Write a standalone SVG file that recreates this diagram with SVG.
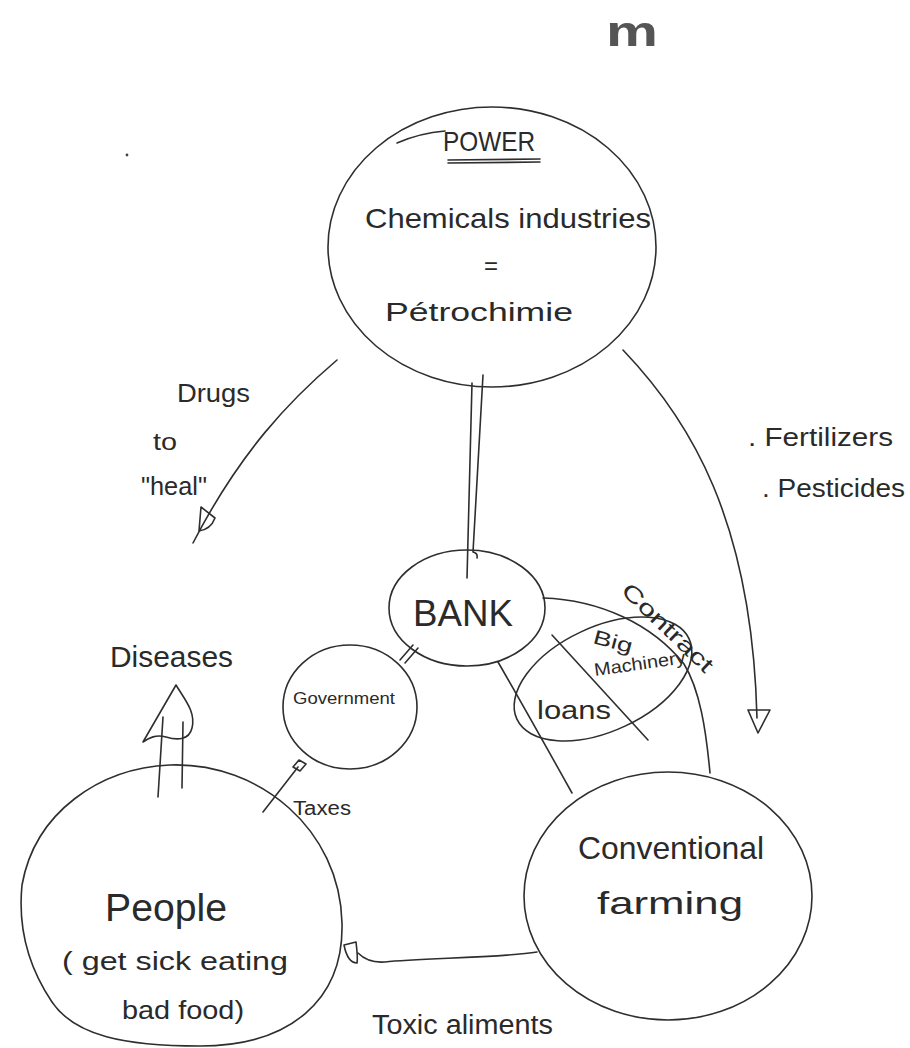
<svg xmlns="http://www.w3.org/2000/svg" width="910" height="1048" viewBox="0 0 910 1048">
<style>
.s{fill:none;stroke:#2e2e2e;stroke-width:1.6;stroke-linecap:round;stroke-linejoin:round}
.t{font-family:"Liberation Sans","DejaVu Sans",sans-serif;fill:#2a2a2a;font-weight:normal}
</style>
<rect width="910" height="1048" fill="#ffffff"/>
<text class="t" x="632" y="46" font-size="42" text-anchor="middle" style="fill:#555;font-weight:bold" textLength="52" lengthAdjust="spacingAndGlyphs">m</text>
<circle cx="127" cy="155" r="1.4" fill="#444"/>

<g id="power">
<ellipse class="s" cx="492" cy="247" rx="164" ry="140"/>
<path class="s" d="M397,143 Q420,133 445,131"/>
<text class="t" x="443" y="151" font-size="28" textLength="92" lengthAdjust="spacingAndGlyphs">POWER</text>
<path class="s" d="M448,160 L540,159 M448,163 L540,162"/>
<text class="t" x="365" y="228" font-size="28" textLength="286" lengthAdjust="spacingAndGlyphs">Chemicals industries</text>
<text class="t" x="491" y="274" font-size="24" text-anchor="middle">=</text>
<text class="t" x="385" y="321" font-size="26" textLength="188" lengthAdjust="spacingAndGlyphs">Pétrochimie</text>
</g>

<g id="bank">
<ellipse class="s" cx="467" cy="608" rx="78" ry="58"/>
<text class="t" x="413" y="626" font-size="36" textLength="100" lengthAdjust="spacingAndGlyphs">BANK</text>
</g>

<g id="government">
<ellipse class="s" cx="350" cy="707" rx="67" ry="62"/>
<text class="t" x="293" y="704" font-size="16" textLength="102" lengthAdjust="spacingAndGlyphs">Government</text>
</g>

<g id="machinery">
<ellipse class="s" cx="603" cy="679" rx="95" ry="52" transform="rotate(-25 603 679)"/>
<path class="s" d="M552,635 L648,740"/>
<text class="t" x="592" y="643" font-size="20" transform="rotate(15 592 643)" textLength="40" lengthAdjust="spacingAndGlyphs">Big</text>
<text class="t" x="595" y="676" font-size="18" transform="rotate(-8 595 676)" textLength="92" lengthAdjust="spacingAndGlyphs">Machinery</text>
<text class="t" x="537" y="719" font-size="26" textLength="74" lengthAdjust="spacingAndGlyphs">loans</text>
</g>

<g id="people">
<path class="s" d="M170,765 C260,762 340,830 342,923 C344,1000 290,1046 200,1046 C125,1046 75,1036 52,1002 C27,965 18,925 22,885 C35,812 100,768 170,765 Z"/>
<text class="t" x="105" y="921" font-size="38" textLength="122" lengthAdjust="spacingAndGlyphs">People</text>
<text class="t" x="62" y="970" font-size="25" textLength="226" lengthAdjust="spacingAndGlyphs">( get sick eating</text>
<text class="t" x="122" y="1019" font-size="26" textLength="122" lengthAdjust="spacingAndGlyphs">bad food)</text>
</g>

<g id="farming">
<ellipse class="s" cx="668" cy="896" rx="144" ry="124"/>
<text class="t" x="578" y="859" font-size="32" textLength="186" lengthAdjust="spacingAndGlyphs">Conventional</text>
<text class="t" x="597" y="914" font-size="32" textLength="146" lengthAdjust="spacingAndGlyphs">farming</text>
</g>

<g id="connectors">
<!-- power to bank double line -->
<path class="s" d="M472,383 L467,578 M483,375 L473,552 Q478,553 477,558"/>
<!-- drugs -->
<path class="s" d="M337,360 C290,400 240,452 193,543"/>
<path class="s" d="M201,507 L215,518 C212,526 206,530 199,531 Z"/>
<!-- fertilizers -->
<path class="s" d="M623,350 C690,420 752,520 757,718"/>
<path class="s" d="M748,710 L770,710 L758,733 Z"/>
<!-- bank - government -->
<path class="s" d="M400,660 L413,645 M405,663 L418,648"/>
<!-- bank to farming -->
<path class="s" d="M498,662 C520,700 548,750 572,793"/>
<path class="s" d="M543,598 C600,600 652,624 684,664 C700,690 706,730 710,773"/>
<!-- taxes -->
<path class="s" d="M263,812 L298,767"/>
<path class="s" d="M293,767 L299,760 L306,764 L300,771 Z"/>
<!-- diseases -->
<path class="s" d="M158,797 L163,717 M182,788 L183,722"/>
<path class="s" d="M143,742 L176,685 C185,700 196,712 192,728 C189,741 176,740 166,737 C156,734 149,738 143,742"/>
<!-- toxic aliments -->
<path class="s" d="M537,952 C500,958 420,958 385,962 C372,963 364,959 358,953"/>
<path class="s" d="M344,945 L356,942 C357,950 358,958 357,963 C350,963 346,955 344,945 Z"/>
</g>

<g id="labels">
<text class="t" x="177" y="402" font-size="26" textLength="73" lengthAdjust="spacingAndGlyphs">Drugs</text>
<text class="t" x="153" y="450" font-size="24" textLength="24" lengthAdjust="spacingAndGlyphs">to</text>
<text class="t" x="141" y="495" font-size="26" textLength="66" lengthAdjust="spacingAndGlyphs">"heal"</text>
<text class="t" x="748" y="446" font-size="25" textLength="145" lengthAdjust="spacingAndGlyphs">. Fertilizers</text>
<text class="t" x="762" y="497" font-size="25" textLength="143" lengthAdjust="spacingAndGlyphs">. Pesticides</text>
<text class="t" x="110" y="667" font-size="29" textLength="123" lengthAdjust="spacingAndGlyphs">Diseases</text>
<text class="t" x="293" y="815" font-size="20" textLength="58" lengthAdjust="spacingAndGlyphs">Taxes</text>
<text class="t" x="372" y="1034" font-size="27" textLength="181" lengthAdjust="spacingAndGlyphs">Toxic aliments</text>
<text class="t" x="620" y="592" font-size="22" transform="rotate(44 620 592)" textLength="118" lengthAdjust="spacingAndGlyphs">Contract</text>
</g>
</svg>
